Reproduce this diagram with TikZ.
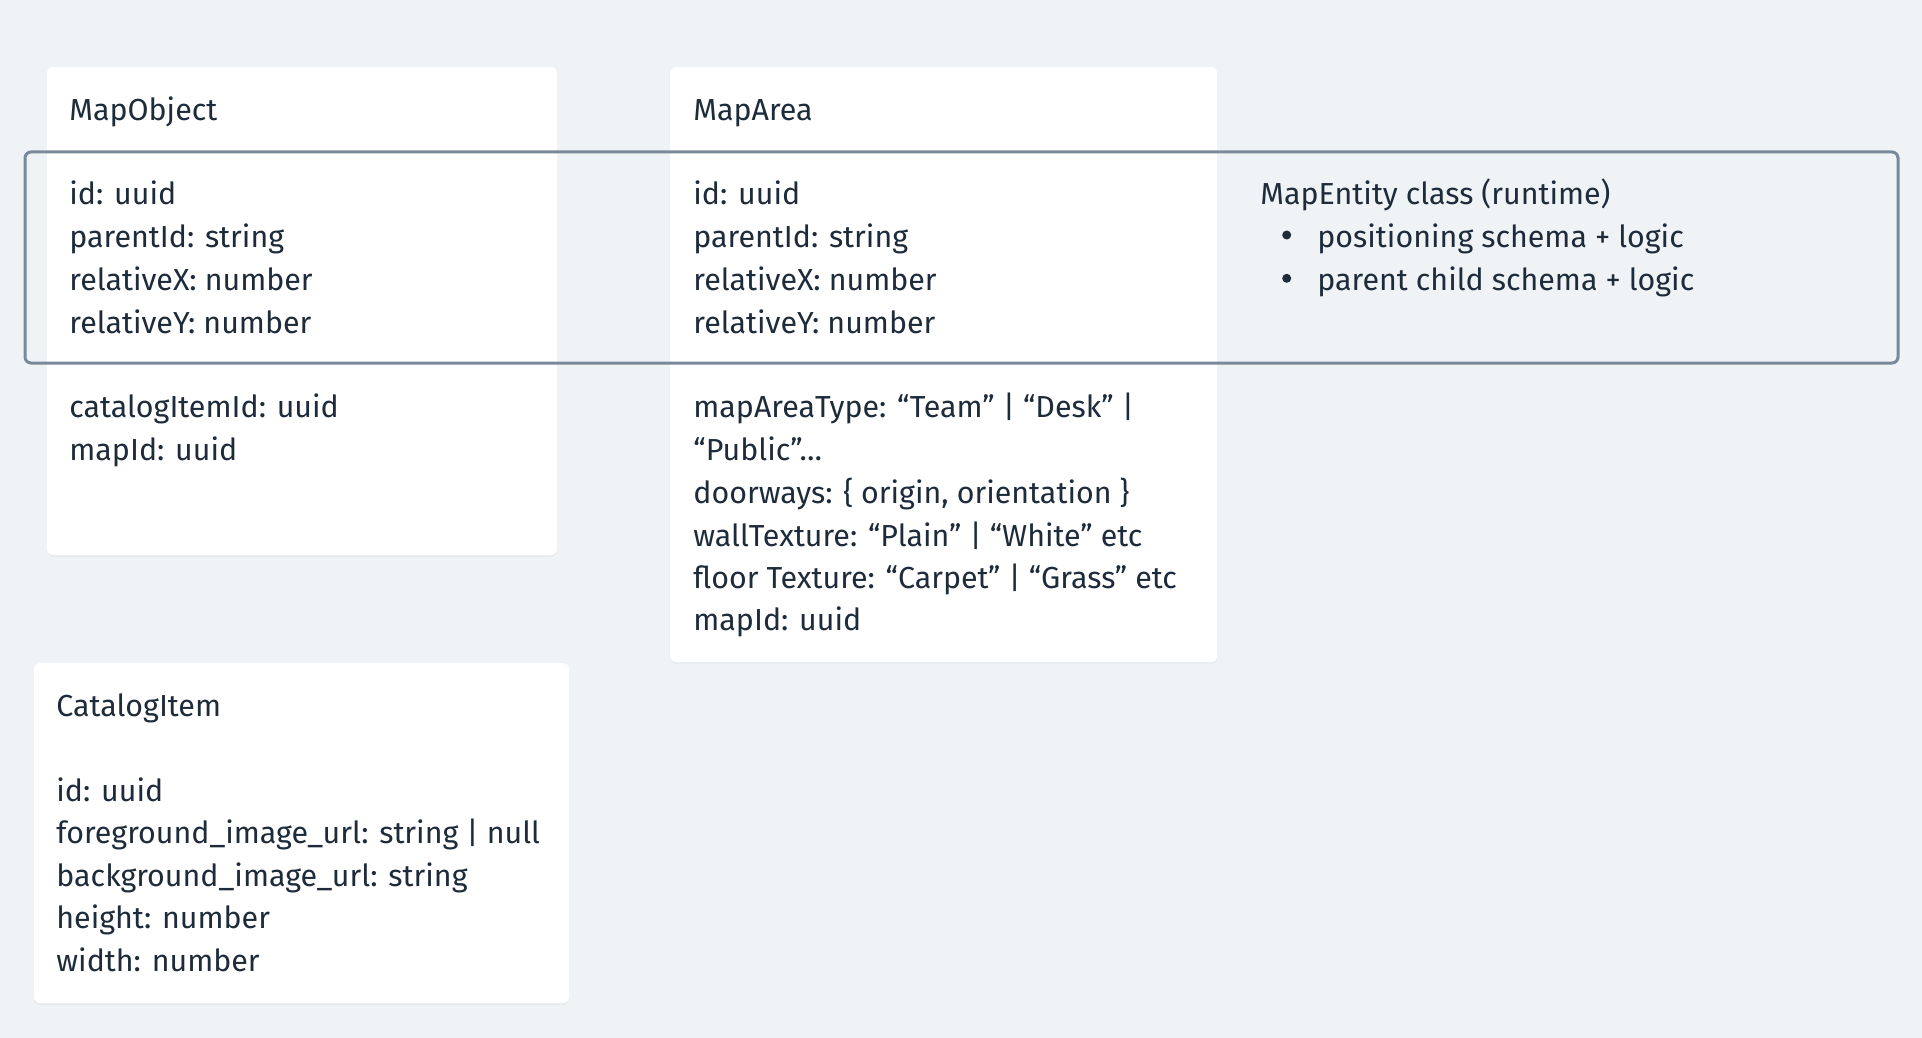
\documentclass[tikz,border=0pt]{standalone}
\usepackage{fontspec}
\setmainfont{Fira Sans}
\usetikzlibrary{shadows}

\definecolor{canvas}{HTML}{EFF3F6}
\definecolor{ink}{HTML}{1E2B3A}
\definecolor{frame}{HTML}{7A8999}

\tikzset{
  card/.style={fill=white, rounded corners=3pt,
    drop shadow={opacity=0.06, shadow xshift=0pt, shadow yshift=-1pt}},
  field/.style={anchor=base west, inner sep=0pt, text=ink,
    font=\fontsize{15.2}{18}\selectfont},
  dot/.style={circle, fill=ink, inner sep=0pt, minimum size=4.5pt},
  group/.style={draw=frame, line width=1.5pt, rounded corners=3pt}
}

\begin{document}
\begin{tikzpicture}[x=0.5pt, y=-0.5pt]

  \fill[canvas] (0,0) rectangle (1922,1038);
  \useasboundingbox (0,0) rectangle (1922,1038);

  % cards
  \path[card] (47,67) rectangle (557,555);
  \path[card] (670,67) rectangle (1217,662);
  \path[card] (34,663) rectangle (569,1003);

  % MapObject
  \node[field] (mo) at (69,120) {MapObject};
  \node[field] (mo1) at (69,205) {id: uuid};
  \node[field] (mo2) at (69,247.7) {parentId: string};
  \node[field] (mo3) at (69,290.3) {relativeX: number};
  \node[field] (mo4) at (69,333) {relativeY: number};
  \node[field] (mo5) at (69,417.3) {catalogItemId: uuid};
  \node[field] (mo6) at (69,460) {mapId: uuid};

  % MapArea
  \node[field] (ma) at (693,120) {MapArea};
  \node[field] (ma1) at (693,205) {id: uuid};
  \node[field] (ma2) at (693,247.7) {parentId: string};
  \node[field] (ma3) at (693,290.3) {relativeX: number};
  \node[field] (ma4) at (693,333) {relativeY: number};
  \node[field] (ma5) at (693,417.3) {mapAreaType: “Team” | “Desk” |};
  \node[field] (ma6) at (693,460) {“Public”…};
  \node[field] (ma7) at (693,503.3) {doorways: \{ origin, orientation \}};
  \node[field] (ma8) at (693,546.7) {wallTexture: “Plain” | “White” etc};
  \node[field] (ma9) at (693,588.3) {floor Texture: “Carpet” | “Grass” etc};
  \node[field] (ma10) at (693,630) {mapId: uuid};

  % CatalogItem
  \node[field] (ci) at (56,716.7) {CatalogItem};
  \node[field] (ci1) at (56,801) {id: uuid};
  \node[field] (ci2) at (56,843.3) {foreground\_image\_url: string | null};
  \node[field] (ci3) at (56,886.7) {background\_image\_url: string};
  \node[field] (ci4) at (56,928.3) {height: number};
  \node[field] (ci5) at (56,971.7) {width: number};

  % shared fields
  \draw[group] (25,152) rectangle (1898,363);
  \node[field] (me) at (1260,205) {MapEntity class (runtime)};
  \node[dot] (b1) at (1286.7,235) {};
  \node[field] (me1) at (1317,247.7) {positioning schema + logic};
  \node[dot] (b2) at (1286.7,278.3) {};
  \node[field] (me2) at (1317,290.3) {parent child schema + logic};

\end{tikzpicture}
\end{document}
